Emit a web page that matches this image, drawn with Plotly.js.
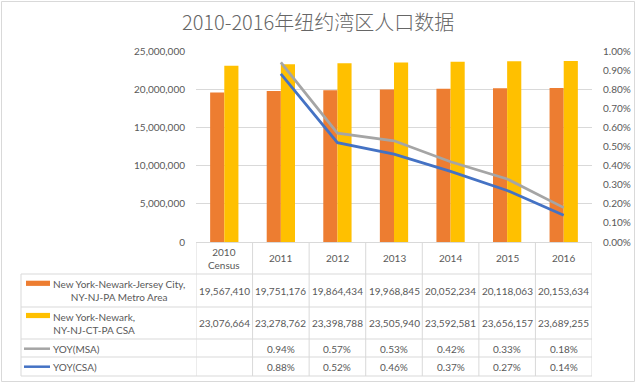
<!DOCTYPE html>
<html>
<head>
<meta charset="utf-8">
<script src="https://cdn.plot.ly/plotly-3.0.1.min.js"></script>
<style>html,body{margin:0;padding:0;background:#fff;}#chart{width:640px;height:383px;}</style>
</head>
<body>
<div id="chart"></div>
<script>
// ---- data ----
const chartTitle = '2010-2016年纽约湾区人口数据';
const categories = ['2010 Census', '2011', '2012', '2013', '2014', '2015', '2016'];
const msaPop = [19567410, 19751176, 19864434, 19968845, 20052234, 20118063, 20153634];
const csaPop = [23076664, 23278762, 23398788, 23505940, 23592581, 23656157, 23689255];
const yoyMsa = [null, 0.0094, 0.0057, 0.0053, 0.0042, 0.0033, 0.0018];
const yoyCsa = [null, 0.0088, 0.0052, 0.0046, 0.0037, 0.0027, 0.0014];
const seriesNames = ['New York-Newark-Jersey City,<br>NY-NJ-PA Metro Area', 'New York-Newark,<br>NY-NJ-CT-PA CSA', 'YOY(MSA)', 'YOY(CSA)'];

// ---- layout geometry (pixels) ----
const W = 640, H = 383;
const plotL = 196, plotR = 592, plotT = 51, plotB = 242;
const px = p => (p - plotL) / (plotR - plotL);     // pixel x -> paper
const py = p => (plotB - p) / (plotB - plotT);     // pixel y -> paper
const rowLines = [274, 307, 339, 357, 376];
const rowCenters = [258, 290.5, 323, 348.5, 366.5];
const tableLeft = 21;
const colors = ['#ED7D31', '#FFC000', '#A5A5A5', '#4472C4'];
const txt = '#595959', grid = '#D9D9D9';
const fnt = 'Lato, "Open Sans", sans-serif';

const fmtInt = v => v.toLocaleString('en-US');
const fmtPct = v => (v === null ? '' : (v * 100).toFixed(2) + '%');

const traces = [
  {type: 'bar', name: seriesNames[0], x: categories, y: msaPop, marker: {color: colors[0]}, hoverinfo: 'y'},
  {type: 'bar', name: seriesNames[1], x: categories, y: csaPop, marker: {color: colors[1]}, hoverinfo: 'y'},
  {type: 'scatter', mode: 'lines', name: seriesNames[2], x: categories, y: yoyMsa, yaxis: 'y2',
   line: {color: colors[2], width: 2.75}},
  {type: 'scatter', mode: 'lines', name: seriesNames[3], x: categories, y: yoyCsa, yaxis: 'y2',
   line: {color: colors[3], width: 2.75}}
];

const shapes = [];
const annotations = [];
const n = categories.length;

// outer border
shapes.push({type: 'rect', xref: 'paper', yref: 'paper', x0: px(1.5), x1: px(634.5), y0: py(1.5), y1: py(381.5),
  line: {color: grid, width: 1}, layer: 'below'});

// table horizontal lines
rowLines.forEach(y => shapes.push({type: 'line', xref: 'paper', yref: 'paper', x0: px(tableLeft), x1: 1, y0: py(y), y1: py(y),
  line: {color: grid, width: 1}}));
// left border of legend column
shapes.push({type: 'line', xref: 'paper', yref: 'paper', x0: px(tableLeft), x1: px(tableLeft), y0: py(rowLines[0]), y1: py(rowLines[rowLines.length - 1]),
  line: {color: grid, width: 1}});
// column separators
for (let i = 0; i <= n; i++) {
  shapes.push({type: 'line', xref: 'x', yref: 'paper', x0: i - 0.5, x1: i - 0.5, y0: 0, y1: py(rowLines[rowLines.length - 1]),
    line: {color: grid, width: 1}});
}

// header
categories.forEach((c, i) => annotations.push({xref: 'x', yref: 'paper', x: i, y: py(rowCenters[0]), text: c.replace(' ', '<br>'),
  showarrow: false, xanchor: 'center', yanchor: 'middle', font: {family: fnt, size: 10, color: txt}}));

// data rows
const rows = [msaPop.map(fmtInt), csaPop.map(fmtInt), yoyMsa.map(fmtPct), yoyCsa.map(fmtPct)];
rows.forEach((r, k) => r.forEach((t, i) => {
  if (t) annotations.push({xref: 'x', yref: 'paper', x: i, y: py(rowCenters[k + 1]), text: t,
    showarrow: false, xanchor: 'center', yanchor: 'middle', font: {family: fnt, size: 10, color: txt}});
}));

// legend keys in first column
const keyY = [283.3, 315.5, 348.7, 366.7];
[0, 1].forEach(k => {
  shapes.push({type: 'rect', xref: 'paper', yref: 'paper', x0: px(26), x1: px(50), y0: py(keyY[k] - 2.6), y1: py(keyY[k] + 2.6),
    fillcolor: colors[k], line: {width: 0}});
  annotations.push({xref: 'paper', yref: 'paper', x: px(51), y: py(rowCenters[k + 1]), text: seriesNames[k],
    showarrow: false, xanchor: 'left', yanchor: 'middle', align: 'center', font: {family: fnt, size: 10, color: txt}});
});
[2, 3].forEach(k => {
  shapes.push({type: 'line', xref: 'paper', yref: 'paper', x0: px(24), x1: px(50), y0: py(keyY[k]), y1: py(keyY[k]),
    line: {color: colors[k], width: 2.5}});
  annotations.push({xref: 'paper', yref: 'paper', x: px(50.5), y: py(rowCenters[k + 1]), text: seriesNames[k],
    showarrow: false, xanchor: 'left', yanchor: 'middle', font: {family: fnt, size: 10, color: txt}});
});

const layout = {
  width: W, height: H,
  margin: {l: plotL, r: W - plotR, t: plotT, b: H - plotB},
  paper_bgcolor: '#fff', plot_bgcolor: '#fff',
  showlegend: false,
  title: {text: chartTitle, x: 0.497, xref: 'container', xanchor: 'center', y: 1 - 23 / H, yref: 'container', yanchor: 'middle',
    font: {family: '"Noto Sans CJK SC", sans-serif', size: 20, weight: 300, color: '#666666'}},
  barmode: 'group', bargap: 0.5, bargroupgap: 0,
  xaxis: {type: 'category', range: [-0.5, n - 0.5], showticklabels: false, ticks: '', showgrid: false,
    showline: true, linecolor: grid, linewidth: 1, zeroline: false, fixedrange: true},
  yaxis: {range: [0, 25000000], dtick: 5000000, tickformat: ',d', showgrid: true, gridcolor: grid, gridwidth: 1,
    zeroline: false, showline: false, ticks: '', ticklabelstandoff: 10,
    tickfont: {family: fnt, size: 10, color: txt}, fixedrange: true},
  yaxis2: {overlaying: 'y', side: 'right', range: [0, 0.01], dtick: 0.001, tickformat: '.2%', showgrid: false,
    zeroline: false, showline: false, ticks: '', ticklabelstandoff: 10,
    tickfont: {family: fnt, size: 10, color: txt}, fixedrange: true},
  shapes: shapes,
  annotations: annotations
};

Plotly.newPlot('chart', traces, layout, {displayModeBar: false, staticPlot: true});
</script>
</body>
</html>
